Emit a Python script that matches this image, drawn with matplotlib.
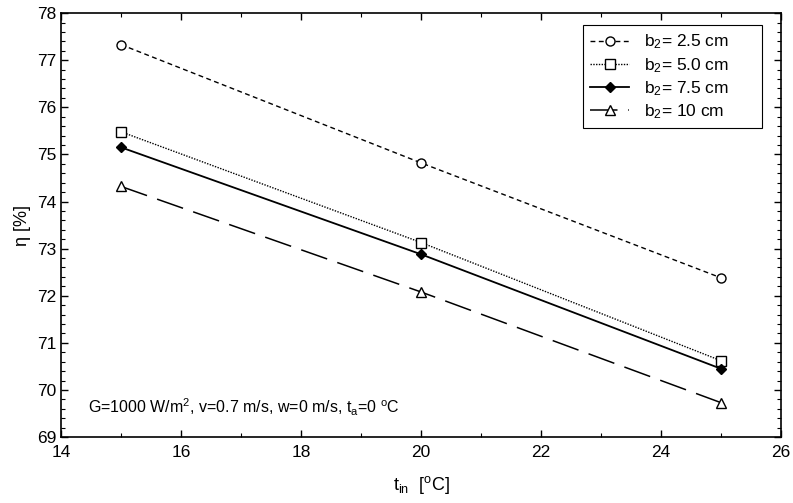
import matplotlib
matplotlib.use("Agg")
import matplotlib.pyplot as plt
from matplotlib.ticker import MultipleLocator

plt.rcParams['font.family'] = ['Liberation Sans', 'DejaVu Sans']
plt.rcParams['mathtext.fontset'] = 'custom'
plt.rcParams['mathtext.rm'] = 'Liberation Sans'
plt.rcParams['mathtext.it'] = 'Liberation Sans'
plt.rcParams['mathtext.default'] = 'regular'

t_in = [15, 20, 25]
eta_25 = [77.33, 74.82, 72.38]
eta_50 = [75.48, 73.13, 70.62]
eta_75 = [75.15, 72.88, 70.45]
eta_10 = [74.32, 72.08, 69.73]
labels = ['b$_2$= 2.5 cm', 'b$_2$= 5.0 cm', 'b$_2$= 7.5 cm', 'b$_2$= 10 cm']

fig = plt.figure(figsize=(7.93, 5.03), dpi=100)
ax = fig.add_axes([0.077, 0.131, 0.908, 0.843])

ax.plot(t_in, eta_25, color='black', lw=1, linestyle=(0, (3.5, 2.5)),
        marker='o', ms=6.5, mfc='white', mec='black', label=labels[0])
ax.plot(t_in, eta_50, color='black', lw=1, linestyle=(0, (1, 1)),
        marker='s', ms=7, mfc='white', mec='black', label=labels[1])
ax.plot(t_in, eta_75, color='black', lw=1.3, linestyle='-',
        marker='D', ms=5.5, mfc='black', mec='black', label=labels[2])
ax.plot(t_in, eta_10, color='black', lw=1.1, linestyle=(0, (18, 7)),
        marker='^', ms=7, mfc='white', mec='black', label=labels[3])

ax.set_xlim(14, 26)
ax.set_ylim(69, 78)
ax.xaxis.set_major_locator(MultipleLocator(2))
ax.xaxis.set_minor_locator(MultipleLocator(1))
ax.yaxis.set_major_locator(MultipleLocator(1))
ax.yaxis.set_minor_locator(MultipleLocator(0.2))
ax.tick_params(which='both', direction='in', top=True, right=True, labelsize=12.5)
ax.tick_params(which='major', length=5, width=1)
ax.tick_params(which='minor', length=3, width=0.8)
ax.tick_params(axis='x', pad=6)
for s in ax.spines.values():
    s.set_linewidth(1.2)

ax.set_xlabel('t$_{in}$  [$^o$C]', fontsize=13, labelpad=10)
ax.set_ylabel('η [%]', fontsize=13, labelpad=4)

ax.text(0.038, 0.045, 'G=1000 W/m$^2$, v=0.7 m/s, w=0 m/s, t$_a$=0 $^o$C',
        transform=ax.transAxes, fontsize=11.5, ha='left', va='bottom')

# trailing spaces give the wide right margin of the original legend box
leg = ax.legend([l + '      ' for l in labels], loc='upper right',
                bbox_to_anchor=(0.974, 0.972), fontsize=12.5,
                handlelength=2.2, handletextpad=0.9, labelspacing=0.25,
                fancybox=False, framealpha=1, edgecolor='black', borderpad=0.45,
                borderaxespad=0)
leg.get_frame().set_linewidth(0.8)

fig.savefig('out.png', dpi=100)
